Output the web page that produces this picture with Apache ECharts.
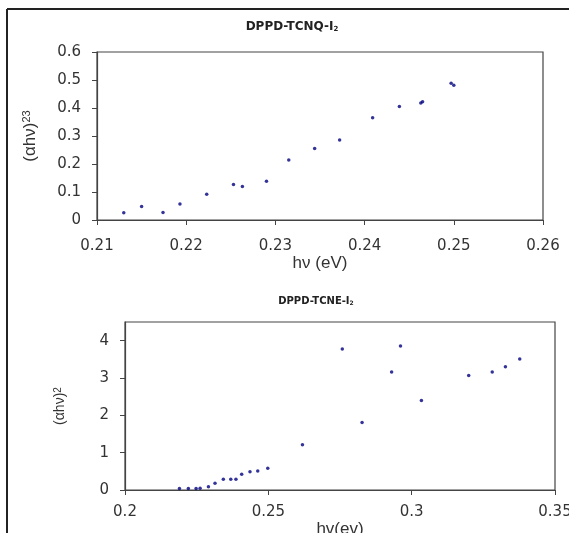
<!DOCTYPE html>
<html>
<head>
<meta charset="utf-8">
<script src="https://cdn.jsdelivr.net/npm/echarts@6/dist/echarts.min.js"></script>
<style>
  html, body { margin: 0; padding: 0; background: #fff; }
  #chart { width: 569px; height: 533px; }
</style>
</head>
<body>
<div id="chart"></div>
<script>
// DPPD-TCNQ-I2 (top panel)
const tcnqEnergy = [0.2130, 0.2150, 0.2174, 0.2193, 0.2223, 0.2253, 0.2263, 0.2290, 0.2315,
  0.2344, 0.2372, 0.2409, 0.2439, 0.2463, 0.2465, 0.2497, 0.2500];
const tcnqAbs = [0.026, 0.048, 0.027, 0.057, 0.092, 0.127, 0.120, 0.138, 0.214,
  0.255, 0.286, 0.365, 0.405, 0.418, 0.422, 0.488, 0.481];

// DPPD-TCNE-I2 (bottom panel)
const tcneEnergy = [0.2190, 0.2221, 0.2248, 0.2262, 0.2291, 0.2314, 0.2343, 0.2369, 0.2387,
  0.2407, 0.2436, 0.2463, 0.2498, 0.2619, 0.2758, 0.2827, 0.2930, 0.2961, 0.3034,
  0.3199, 0.3281, 0.3327, 0.3377];
const tcneAbs = [0.04, 0.04, 0.04, 0.05, 0.09, 0.18, 0.29, 0.29, 0.29,
  0.42, 0.49, 0.51, 0.58, 1.21, 3.78, 1.81, 3.16, 3.86, 2.40,
  3.07, 3.16, 3.30, 3.51];

const tcneYTicks = [0, 1, 2, 3, 4];

const pairs = (xs, ys) => xs.map((x, i) => [x, ys[i]]);

const chart = echarts.init(document.getElementById('chart'), null, { renderer: 'canvas' });

const ink = '#333';
const frame = '#444';
const dotColor = '#00007f';

const tickLabel = { color: ink, fontFamily: 'DejaVu Sans', fontSize: 15 };

function valueAxis(extra) {
  return Object.assign({
    type: 'value',
    splitLine: { show: false },
    axisLine: { show: true, onZero: false, lineStyle: { color: frame, width: 1.2 } },
    axisTick: { show: true, inside: false, length: 5, lineStyle: { color: frame } },
    nameTextStyle: { color: ink, fontFamily: 'Liberation Sans' }
  }, extra);
}

const option = {
  animation: false,
  backgroundColor: '#fff',
  title: [
    {
      text: 'DPPD-TCNQ-I{sub|2}',
      left: 287, top: 16, textAlign: 'center',
      textStyle: {
        fontSize: 12, fontWeight: 'bold', color: '#222', fontFamily: 'DejaVu Sans',
        rich: { sub: { fontSize: 7, fontWeight: 'bold', verticalAlign: 'bottom', padding: [4, 0, 0, 0], color: '#222' } }
      }
    },
    {
      text: 'DPPD-TCNE-I{sub|2}',
      left: 311, top: 291, textAlign: 'center',
      textStyle: {
        fontSize: 10, fontWeight: 'bold', color: '#222', fontFamily: 'DejaVu Sans',
        rich: { sub: { fontSize: 6, fontWeight: 'bold', verticalAlign: 'bottom', padding: [3, 0, 0, 0], color: '#222' } }
      }
    }
  ],
  grid: [
    { left: 97, top: 52, right: 26, height: 168, outerBoundsMode: 'none', show: true, borderColor: frame, borderWidth: 1.2 },
    { left: 125, top: 322, right: 14, height: 168, outerBoundsMode: 'none', show: true, borderColor: frame, borderWidth: 1.2 }
  ],
  xAxis: [
    valueAxis({
      gridIndex: 0, min: 0.21, max: 0.26, interval: 0.01,
      name: 'hν (eV)', nameLocation: 'middle', nameGap: 35,
      nameTextStyle: { color: ink, fontFamily: 'Liberation Sans', fontSize: 17 },
      axisLabel: Object.assign({ margin: 19 }, tickLabel)
    }),
    valueAxis({
      gridIndex: 1, min: 0.2, max: 0.35, interval: 0.05,
      name: 'hv(ev)', nameLocation: 'middle', nameGap: 28,
      nameTextStyle: { color: ink, fontFamily: 'Liberation Sans', fontSize: 17 },
      axisLabel: Object.assign({ margin: 15 }, tickLabel)
    })
  ],
  yAxis: [
    valueAxis({
      gridIndex: 0, min: 0, max: 0.6, interval: 0.1,
      name: '(αhν){sup|23}', nameLocation: 'middle', nameGap: 58, nameRotate: 90,
      nameTextStyle: {
        color: ink, fontFamily: 'Liberation Sans', fontSize: 17,
        rich: { sup: { fontSize: 11, verticalAlign: 'top', color: ink, padding: [0, 0, 7, 0] } }
      },
      axisLabel: Object.assign({ margin: 16 }, tickLabel)
    }),
    valueAxis({
      gridIndex: 1, min: 0, max: 4.5, interval: 1,
      name: '(αhν){sup|2}', nameLocation: 'middle', nameGap: 57, nameRotate: 90,
      nameTextStyle: {
        color: ink, fontFamily: 'Liberation Sans', fontSize: 14,
        rich: { sup: { fontSize: 10, verticalAlign: 'top', color: ink, padding: [0, 0, 5, 0] } }
      },
      axisTick: { show: true, length: 5, customValues: tcneYTicks, lineStyle: { color: frame } },
      axisLabel: Object.assign({ margin: 16, customValues: tcneYTicks }, tickLabel)
    })
  ],
  graphic: [
    { type: 'line', shape: { x1: 7, y1: 9, x2: 569, y2: 9 }, style: { stroke: '#222', lineWidth: 2 } },
    { type: 'line', shape: { x1: 7, y1: 9, x2: 7, y2: 533 }, style: { stroke: '#222', lineWidth: 2 } }
  ],
  series: [
    {
      type: 'scatter', xAxisIndex: 0, yAxisIndex: 0,
      data: pairs(tcnqEnergy, tcnqAbs),
      symbol: 'circle', symbolSize: 3.5,
      itemStyle: { color: dotColor }
    },
    {
      type: 'scatter', xAxisIndex: 1, yAxisIndex: 1,
      data: pairs(tcneEnergy, tcneAbs),
      symbol: 'circle', symbolSize: 3.5,
      itemStyle: { color: dotColor }
    }
  ]
};

chart.setOption(option);
</script>
</body>
</html>
